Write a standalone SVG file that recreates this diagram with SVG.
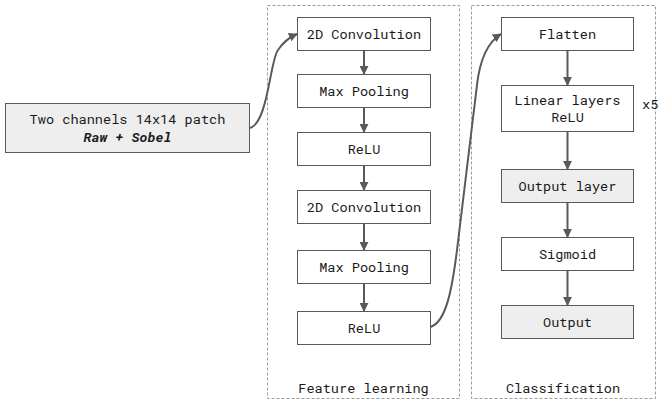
<svg xmlns="http://www.w3.org/2000/svg" width="661" height="400" viewBox="0 0 661 400">
  <defs>
    <marker id="arrow" viewBox="0 0 10 10" refX="9" refY="5" markerWidth="9" markerHeight="9" markerUnits="userSpaceOnUse" orient="auto">
      <path d="M0,0 L10,5 L0,10 Z" fill="#595959"/>
    </marker>
    <style>
      text { font-family: "Roboto Mono", "DejaVu Sans Mono", "Liberation Mono", monospace; font-size: 13.6px; fill: #1a1a1a; text-anchor: middle; dominant-baseline: central; }
      .box { fill: #ffffff; stroke: #595959; stroke-width: 1; }
      .grey { fill: #eeeeee; }
      .group { fill: none; stroke: #9a9a9a; stroke-width: 1; stroke-dasharray: 3 2; }
      .edge { fill: none; stroke: #595959; stroke-width: 2; marker-end: url(#arrow); }
      .bold { font-weight: bold; font-style: italic; }
    </style>
  </defs>

  <!-- stage frames -->
  <g id="feature-learning">
    <rect class="group" x="267.5" y="5.5" width="192" height="393"/>
    <text x="363.5" y="388">Feature learning</text>
  </g>
  <g id="classification">
    <rect class="group" x="471.5" y="5.5" width="184" height="393"/>
    <text x="563" y="388">Classification</text>
  </g>

  <!-- input -->
  <g id="input">
    <rect class="box grey" x="5.5" y="103.5" width="244" height="49"/>
    <text x="127.5" y="119">Two channels 14x14 patch</text>
    <text class="bold" x="127.5" y="137">Raw + Sobel</text>
  </g>

  <!-- feature learning blocks -->
  <g id="conv1"><rect class="box" x="297.5" y="17.5" width="133" height="33"/><text x="364" y="34">2D Convolution</text></g>
  <g id="pool1"><rect class="box" x="297.5" y="74.5" width="133" height="33"/><text x="364" y="91">Max Pooling</text></g>
  <g id="relu1"><rect class="box" x="297.5" y="132.5" width="133" height="33"/><text x="364" y="149">ReLU</text></g>
  <g id="conv2"><rect class="box" x="297.5" y="190.5" width="133" height="33"/><text x="364" y="207">2D Convolution</text></g>
  <g id="pool2"><rect class="box" x="297.5" y="250.5" width="133" height="33"/><text x="364" y="267">Max Pooling</text></g>
  <g id="relu2"><rect class="box" x="297.5" y="311.5" width="133" height="33"/><text x="364" y="328">ReLU</text></g>

  <!-- classification blocks -->
  <g id="flatten"><rect class="box" x="501.5" y="17.5" width="132" height="33"/><text x="567.5" y="34">Flatten</text></g>
  <g id="linear">
    <rect class="box" x="501.5" y="85.5" width="132" height="46"/>
    <text x="567.5" y="100">Linear layers</text>
    <text x="567.5" y="117">ReLU</text>
    <text x="642" y="104" style="text-anchor:start">x5</text>
  </g>
  <g id="output-layer"><rect class="box grey" x="501.5" y="169.5" width="132" height="33"/><text x="567.5" y="186">Output layer</text></g>
  <g id="sigmoid"><rect class="box" x="501.5" y="237.5" width="132" height="33"/><text x="567.5" y="254">Sigmoid</text></g>
  <g id="output"><rect class="box grey" x="501.5" y="305.5" width="132" height="33"/><text x="567.5" y="322">Output</text></g>

  <!-- connectors -->
  <g id="connectors">
    <path class="edge" d="M249.5,128 C268,124 270,60 278,50 C284,41 290,37 297,34"/>
    <line class="edge" x1="364" y1="51" x2="364" y2="74"/>
    <line class="edge" x1="364" y1="108" x2="364" y2="132"/>
    <line class="edge" x1="364" y1="166" x2="364" y2="190"/>
    <line class="edge" x1="364" y1="224" x2="364" y2="250"/>
    <line class="edge" x1="364" y1="284" x2="364" y2="311"/>
    <path class="edge" d="M430.5,327 C446,322 452,290 457,250 L477,85 C480,58 488,42 501,34"/>
    <line class="edge" x1="567.5" y1="51" x2="567.5" y2="85"/>
    <line class="edge" x1="567.5" y1="132" x2="567.5" y2="169"/>
    <line class="edge" x1="567.5" y1="203" x2="567.5" y2="237"/>
    <line class="edge" x1="567.5" y1="271" x2="567.5" y2="305"/>
  </g>
</svg>
